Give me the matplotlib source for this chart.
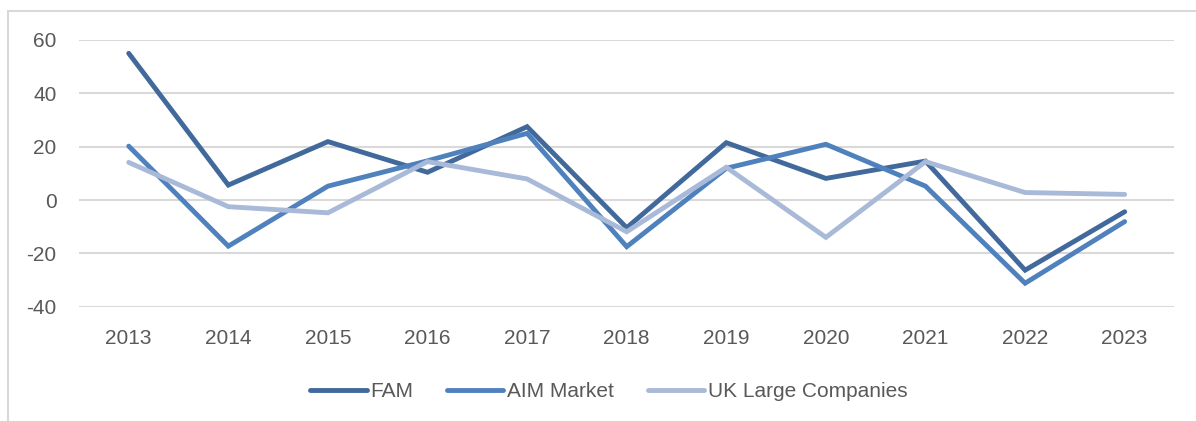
import numpy as np
import matplotlib
matplotlib.use("Agg")
import matplotlib.pyplot as plt
from matplotlib.patches import Rectangle

years = ['2013', '2014', '2015', '2016', '2017', '2018', '2019', '2020', '2021', '2022', '2023']
fam = [55.0, 5.6, 21.9, 10.4, 27.5, -10.4, 21.5, 8.1, 14.6, -26.3, -4.4]
aim = [20.2, -17.3, 5.2, 14.7, 25.0, -17.5, 11.9, 20.9, 5.2, -31.2, -8.1]
uk_large = [14.1, -2.5, -4.8, 14.4, 7.9, -11.9, 12.3, -14.0, 14.4, 2.8, 2.1]

series_names = ['FAM', 'AIM Market', 'UK Large Companies']
colors = ['#41699b', '#4f81bd', '#a9b9d8']

plt.rcParams['font.family'] = ['Liberation Sans', 'DejaVu Sans']
plt.rcParams['axes.unicode_minus'] = False
txt = '#595959'

fig = plt.figure(figsize=(11.96, 4.21), dpi=100)
ax = fig.add_axes([0.066, 0.2715, 0.916, 0.6335])

x = np.arange(len(years))
for vals, name, c in zip([fam, aim, uk_large], series_names, colors):
    ax.plot(x, vals, color=c, lw=3.5, label=name, solid_capstyle='round', solid_joinstyle='miter')

ax.set_xlim(-0.5, len(years) - 0.5)
ax.set_ylim(-40, 60)
ax.set_yticks(np.arange(-40, 61, 20))
ax.set_xticks(x)
ax.set_xticklabels(years)
ax.grid(axis='y', color='#d9d9d9', lw=1.5)
ax.set_axisbelow(True)
for s in ax.spines.values():
    s.set_visible(False)
ax.tick_params(length=0, labelsize=15, colors=txt, pad=16)

leg = ax.legend(loc='center', bbox_to_anchor=(609 / 1196, 1 - 391.7 / 421),
                bbox_transform=fig.transFigure, ncol=3, frameon=False,
                fontsize=15, handlelength=2.7, handletextpad=0.2, columnspacing=1.6)
for t in leg.get_texts():
    t.set_color(txt)

# outer chart border (cropped on the right and bottom)
fig.patches.append(Rectangle((8 / 1196, -0.1), 1.2, 1 - 10.7 / 421 + 0.1,
                             transform=fig.transFigure, fill=False,
                             edgecolor='#d9d9d9', lw=1.5))

fig.savefig('out.png', dpi=100)
